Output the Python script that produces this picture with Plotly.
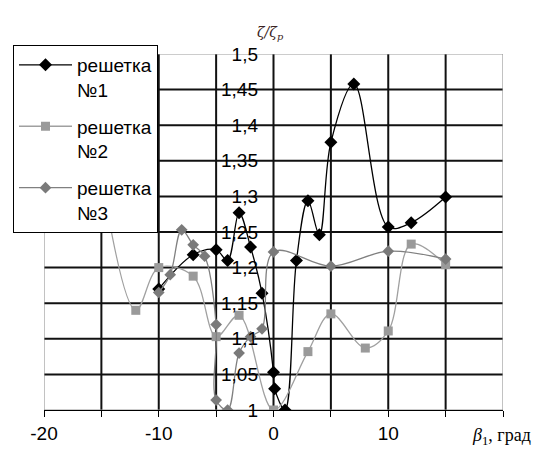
import plotly.graph_objects as go

# ---- data ----
s1_x = [-10, -7, -5, -4, -3, -2, -1, 0, 0.1, 1, 2, 3, 4, 5, 7, 10, 12, 15]
s1_y = [1.17, 1.218, 1.225, 1.21, 1.277, 1.229, 1.164, 1.053, 1.03, 1.0, 1.21, 1.294, 1.246, 1.376, 1.458, 1.257, 1.263, 1.299]

s2_x = [-15, -12, -10, -7, -5, -3, 0, 3, 5, 8, 10, 12, 15]
s2_y = [1.33, 1.14, 1.2, 1.188, 1.103, 1.133, 1.0, 1.082, 1.135, 1.087, 1.111, 1.233, 1.204]

s3_x = [-10, -9, -8, -7, -6, -5, -5, -4, -3, -2, -1, 0, 5, 10, 15]
s3_y = [1.165, 1.19, 1.253, 1.232, 1.216, 1.12, 1.014, 1.0, 1.08, 1.103, 1.114, 1.222, 1.202, 1.223, 1.212]

names = ["решетка<br>№1", "решетка<br>№2", "решетка<br>№3"]

x_ticks = [-20, -15, -10, -5, 0, 5, 10, 15, 20]
x_labels = ["-20", "", "-10", "", "0", "", "10", "", ""]
y_ticks = [1.0, 1.05, 1.1, 1.15, 1.2, 1.25, 1.3, 1.35, 1.4, 1.45, 1.5]
y_labels = ["1", "1,05", "1,1", "1,15", "1,2", "1,25", "1,3", "1,35", "1,4", "1,45", "1,5"]
grid_x = [-15, -10, -5, 0, 5, 10, 15]
grid_y = [1.05, 1.1, 1.15, 1.2, 1.25, 1.3, 1.35, 1.4, 1.45]

X_RANGE = [-20, 20]
Y_RANGE = [1.0, 1.5]

fig = go.Figure()

fig.add_trace(go.Scatter(
    x=s1_x, y=s1_y, name=names[0], mode="lines+markers", legendgroup="a",
    line=dict(color="#000000", width=1.3, shape="spline", smoothing=1.0),
    marker=dict(symbol="diamond", size=10, color="#000000")))
fig.add_trace(go.Scatter(
    x=s2_x, y=s2_y, name=names[1], mode="lines+markers", legendgroup="b",
    line=dict(color="#a0a0a0", width=1.3, shape="spline", smoothing=1.0),
    marker=dict(symbol="square", size=9, color="#9a9a9a")))
fig.add_trace(go.Scatter(
    x=s3_x, y=s3_y, name=names[2], mode="lines+markers", legendgroup="c",
    line=dict(color="#808080", width=1.3, shape="spline", smoothing=1.0),
    marker=dict(symbol="diamond", size=9, color="#7a7a7a")))

shapes = []
for gx in grid_x:
    shapes.append(dict(type="line", xref="x", yref="y", x0=gx, x1=gx,
                       y0=Y_RANGE[0], y1=Y_RANGE[1], layer="below",
                       line=dict(color="#111111", width=2)))
for gy in grid_y:
    shapes.append(dict(type="line", xref="x", yref="y", x0=X_RANGE[0], x1=X_RANGE[1],
                       y0=gy, y1=gy, layer="below",
                       line=dict(color="#111111", width=2)))
shapes.append(dict(type="rect", xref="x", yref="y", x0=X_RANGE[0], x1=X_RANGE[1],
                   y0=Y_RANGE[0], y1=Y_RANGE[1], layer="below",
                   line=dict(color="#9a9a9a", width=1.2)))

L, R, T, B = 44, 48, 54, 46
W, H = 551, 456
pw = W - L - R
ph = H - T - B

fig.update_layout(
    width=W, height=H,
    margin=dict(l=L, r=R, t=T, b=B, pad=0),
    paper_bgcolor="white", plot_bgcolor="white",
    font=dict(family="Liberation Sans, Arial, sans-serif", size=19, color="#000"),
    shapes=shapes,
    showlegend=True,
    legend=dict(
        x=(13 - L) / pw, y=1 + (T - 45) / ph, xanchor="left", yanchor="top",
        bgcolor="white", bordercolor="#000", borderwidth=1,
        font=dict(size=19, color="#000"),
        valign="top", traceorder="grouped", tracegroupgap=9, itemwidth=53),
    xaxis=dict(range=X_RANGE, tickvals=x_ticks, ticktext=x_labels,
               showgrid=False, zeroline=False, showline=True, linecolor="#000",
               linewidth=1, ticks="outside", ticklen=6, tickcolor="#000",
               tickfont=dict(size=19)),
    yaxis=dict(range=Y_RANGE, tickvals=y_ticks, ticktext=y_labels,
               anchor="free", position=(258 - L) / pw, side="left",
               showgrid=False, zeroline=False, showline=False, ticks="",
               tickfont=dict(size=19)),
    annotations=[
        dict(text="<i>ζ/ζ<sub>р</sub></i>", xref="paper", yref="paper",
             x=(270 - L) / pw, y=1 + (T - 22) / ph, showarrow=False,
             font=dict(family="DejaVu Serif, serif", size=14, color="#3a2222")),
        dict(text="<i>β</i><sub>1</sub>, град", xref="paper", yref="paper",
             x=(470 - L) / pw, y=-(437 - (T + ph)) / ph, xanchor="left",
             yanchor="middle", showarrow=False,
             font=dict(family="Liberation Serif, Times New Roman, serif", size=18, color="#000")),
    ],
)

fig.write_html("out.html")
